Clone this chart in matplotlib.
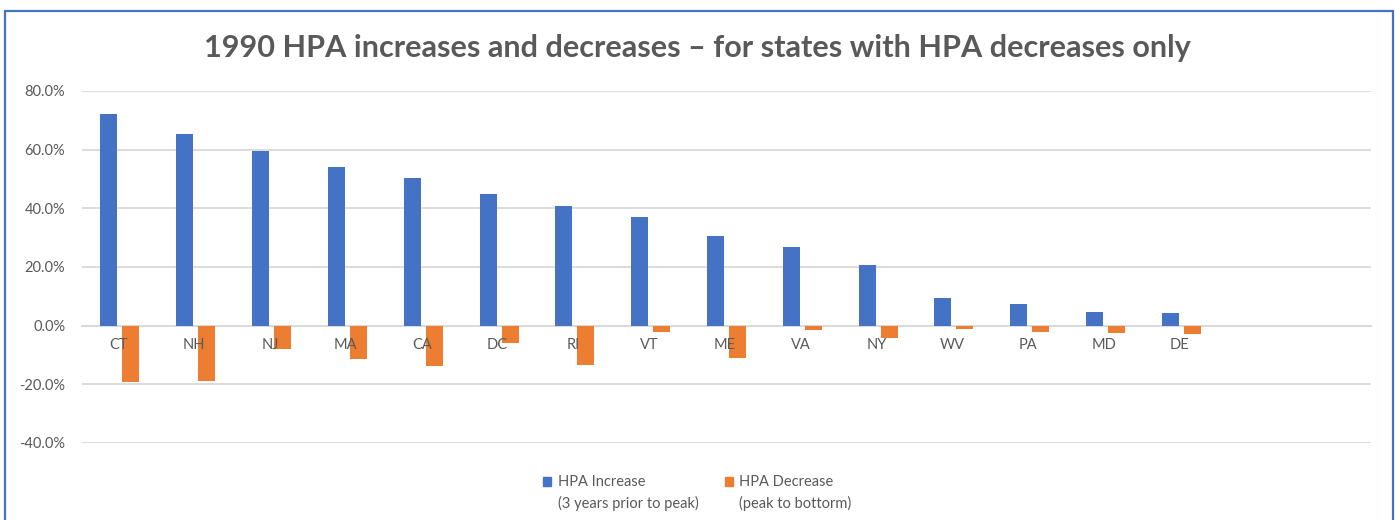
import matplotlib
matplotlib.use("Agg")
import matplotlib.pyplot as plt
from matplotlib.patches import Patch, Rectangle
from matplotlib.legend_handler import HandlerPatch
from matplotlib.ticker import FuncFormatter, MultipleLocator
import numpy as np

states = ['CT', 'NH', 'NJ', 'MA', 'CA', 'DC', 'RI', 'VT', 'ME', 'VA', 'NY', 'WV', 'PA', 'MD', 'DE']
hpa_increase = [72.0, 65.2, 59.5, 54.0, 50.2, 44.8, 40.8, 37.0, 30.5, 26.7, 20.6, 9.6, 7.4, 4.7, 4.3]
hpa_decrease = [-19.3, -18.9, -7.8, -11.2, -13.7, -5.9, -13.4, -2.3, -10.9, -1.5, -4.2, -1.2, -2.2, -2.6, -2.9]
label_inc = "HPA Increase\n(3 years prior to peak)"
label_dec = "HPA Decrease\n(peak to bottorm)"
title = "1990 HPA increases and decreases \u2013 for states with HPA decreases only"

BLUE = '#4472C4'
ORANGE = '#ED7D31'
GRAY = '#595959'
GRID = '#D9D9D9'
FS = 10.5
LSP = 1.5

plt.rcParams['font.family'] = ['Lato', 'DejaVu Sans']

W, H = 1395, 520
fig = plt.figure(figsize=(W / 100, H / 100), dpi=100)
ax = fig.add_axes([82 / W, 1 - 443 / H, (1371 - 82) / W, (443 - 91) / H])

x = np.arange(len(states))
bw = 0.224
ax.bar(x - 0.145, hpa_increase, width=bw, color=BLUE, label=label_inc, zorder=3)
ax.bar(x + 0.145, hpa_decrease, width=bw, color=ORANGE, label=label_dec, zorder=3)

ax.set_xlim(-0.5, 16.5)
ax.set_ylim(-40, 80)
ax.yaxis.set_major_locator(MultipleLocator(20))
ax.yaxis.set_major_formatter(FuncFormatter(lambda v, p: f"{v:.1f}%"))
ax.grid(axis='y', color=GRID, linewidth=1.3, zorder=0)
ax.set_axisbelow(True)

for s in ['top', 'right', 'left']:
    ax.spines[s].set_visible(False)
ax.spines['bottom'].set_position(('data', 0))
ax.spines['bottom'].set_color(GRID)
ax.spines['bottom'].set_linewidth(1.3)

ax.set_xticks(x)
ax.set_xticklabels([])
ax.tick_params(axis='x', length=0)
ax.tick_params(axis='y', length=0, pad=12, labelsize=FS, labelcolor=GRAY)

for xi, s in zip(x, states):
    ax.annotate(s, xy=(xi - 0.02, 0), xytext=(0, -14), textcoords='offset points',
                ha='center', va='center', fontsize=FS, color=GRAY, zorder=6)

fig.text(0.5, 1 - 48 / H, title, ha='center', va='center', fontsize=22.1,
         fontweight='bold', color=GRAY)


def top_square(legend, orig_handle, xdescent, ydescent, width, height, fontsize):
    shift = 0.8 * fontsize
    return Rectangle((-xdescent, -ydescent + shift), width, height)


handles = [Patch(color=BLUE), Patch(color=ORANGE)]
leg = fig.legend(handles, [label_inc, label_dec], loc='center', ncol=2,
                 bbox_to_anchor=(0.5, 1 - 493 / H), frameon=False,
                 fontsize=FS, handlelength=0.55, handleheight=0.55,
                 handletextpad=0.45, columnspacing=1.8,
                 handler_map={Patch: HandlerPatch(patch_func=top_square)})
for t in leg.get_texts():
    t.set_color(GRAY)
    t.set_linespacing(LSP)

fig.patches.append(Rectangle((5 / W, -0.1), (1393 - 5) / W, 1.1 - 11 / H,
                             transform=fig.transFigure, fill=False,
                             edgecolor=BLUE, linewidth=1.6))

fig.savefig('out.png', dpi=100)
